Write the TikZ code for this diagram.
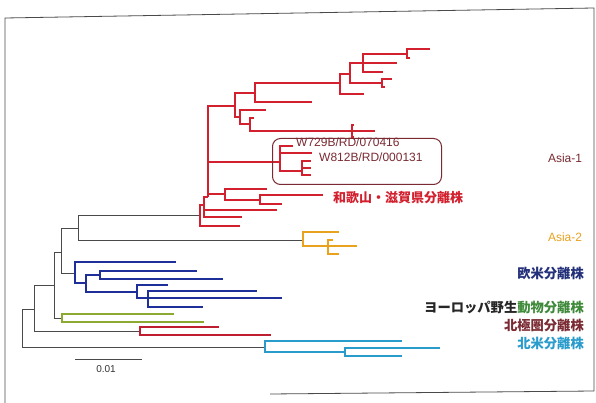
\documentclass[tikz,border=0pt]{standalone}
\usepackage{fontspec}
\setmainfont{Liberation Sans}
\newfontfamily\jp{Noto Sans CJK JP}
\definecolor{cgray}{HTML}{4A4A4A}
\definecolor{cred}{HTML}{D2202E}
\definecolor{carc}{HTML}{BE1E30}
\definecolor{cblue}{HTML}{1F2F9A}
\definecolor{cgreen}{HTML}{8CAA32}
\definecolor{ccyan}{HTML}{2A9CCC}
\definecolor{corange}{HTML}{E8A21E}
\definecolor{cmaroon}{HTML}{7A2A32}
\definecolor{cnavy}{HTML}{23307A}
\definecolor{cjgreen}{HTML}{3F8A3A}
\begin{document}
\begin{tikzpicture}[x=1pt,y=-1pt,
  gb/.style={draw=cgray,line width=0.8pt},
  cb/.style={line width=1.8pt,line join=miter},
  lab/.style={inner sep=0pt,font=\fontsize{12}{12}\selectfont},
  jlab/.style={inner sep=0pt,anchor=east,font=\jp\bfseries\fontsize{13.3}{13.3}\selectfont}]
\useasboundingbox (0,0) rectangle (596,403);
\fill[white] (0,0) rectangle (596,403);
% frame
\draw[cgray,line width=0.8pt] (5,403) -- (5,18) -- (594,8) -- (594,391) -- (270,394);

% backbone coordinates
\coordinate (root) at (22,328);
\coordinate (n1) at (34,309);
\coordinate (n2) at (54,285);
\coordinate (n3) at (61,252);
\coordinate (n4) at (78,228);
\coordinate (cy) at (265,347);
\coordinate (ar) at (140,331);
\coordinate (gr) at (62,318);
\coordinate (bl) at (75,273);
\coordinate (a1) at (200,215);
\coordinate (a2) at (303,240);
\foreach \p/\c in {root/n1,root/cy,n1/n2,n1/ar,n2/n3,n2/gr,n3/n4,n3/bl,n4/a1,n4/a2}
  \draw[gb] (\p) |- (\c);

% blue clade
\coordinate (nB) at (86,283);
\coordinate (nC) at (100,275);
\coordinate (nD) at (137,292);
\coordinate (nE) at (148,298);
\coordinate (bl1) at (176,262);
\coordinate (bl2) at (197,271);
\coordinate (bl3) at (223,279);
\coordinate (bl4) at (168,285);
\coordinate (bl5) at (257,291);
\coordinate (bl6) at (282,298);
\coordinate (bl7) at (203,307);
\foreach \p/\c in {bl/bl1,bl/nB,nB/nC,nB/nD,nC/bl2,nC/bl3,nD/bl4,nD/nE,nE/bl5,nE/bl6,nE/bl7}
  \draw[cb,cblue] (\p) |- (\c);

% green clade
\coordinate (g1) at (174,314);
\coordinate (g2) at (204,322);
\foreach \c in {g1,g2} \draw[cb,cgreen] (gr) |- (\c);

% arctic clade
\coordinate (ar1) at (219,327);
\coordinate (ar2) at (271,335);
\foreach \c in {ar1,ar2} \draw[cb,carc] (ar) |- (\c);

% north america clade
\coordinate (cy2) at (345,352);
\coordinate (c1) at (402,341);
\coordinate (c2) at (440,348);
\coordinate (c3) at (402,356);
\foreach \p/\c in {cy/c1,cy/cy2,cy2/c2,cy2/c3}
  \draw[cb,ccyan] (\p) |- (\c);

% asia-2 clade
\coordinate (a2b) at (328,246);
\coordinate (o1) at (339,232);
\coordinate (o2) at (333,240);
\coordinate (o3) at (357,246);
\coordinate (o4) at (339,254);
\foreach \p/\c in {a2/o1,a2/a2b,a2b/o2,a2b/o3,a2b/o4}
  \draw[cb,corange] (\p) |- (\c);

% asia-1 clade
\coordinate (r1) at (204,205);
\coordinate (a1l) at (240,226);
\coordinate (r2) at (208,197);
\coordinate (r1a) at (277,210);
\coordinate (r1b) at (242,217);
\coordinate (N1) at (235,106);
\coordinate (B1) at (280,162);
\coordinate (S1) at (225,194);
\coordinate (N2) at (255,93);
\coordinate (N8) at (240,117);
\coordinate (N3) at (340,83);
\coordinate (N2l) at (312,102);
\coordinate (N4) at (350,74);
\coordinate (N3l) at (364,94);
\coordinate (N5) at (363,63);
\coordinate (N7) at (382,83);
\coordinate (N6) at (407,54);
\coordinate (N5a) at (397,63);
\coordinate (N5b) at (383,72);
\coordinate (N6a) at (430,49);
\coordinate (N6b) at (410,58);
\coordinate (N7a) at (392,79);
\coordinate (N7b) at (385,87);
\coordinate (N8a) at (266,110);
\coordinate (N9) at (250,124);
\coordinate (N9a) at (254,118);
\coordinate (N10) at (352,131);
\coordinate (t1) at (354,125);
\coordinate (t2) at (375,131);
\coordinate (t3) at (354,137);
\coordinate (B1a) at (293,146);
\coordinate (B1b) at (312,153);
\coordinate (B2) at (302,171);
\coordinate (B2a) at (311,161);
\coordinate (B2b) at (311,168);
\coordinate (B2c) at (311,175);
\coordinate (S1a) at (267,189);
\coordinate (S2) at (260,200);
\coordinate (S2a) at (323,195);
\coordinate (S2b) at (282,204);
\foreach \p/\c in {a1/r1,a1/a1l,r1/r2,r1/r1a,r1/r1b,r2/N1,r2/B1,r2/S1,
  N1/N2,N1/N8,N2/N3,N2/N2l,N3/N4,N3/N3l,N4/N5,N4/N7,N5/N6,N5/N5a,N5/N5b,
  N6/N6a,N6/N6b,N7/N7a,N7/N7b,N8/N8a,N8/N9,N9/N9a,N9/N10,N10/t1,N10/t2,N10/t3,
  B1/B1a,B1/B1b,B1/B2,B2/B2a,B2/B2b,B2/B2c,S1/S1a,S1/S2,S2/S2a,S2/S2b}
  \draw[cb,cred] (\p) |- (\c);

% highlight box
\node[draw=cmaroon,line width=1pt,rounded corners=8pt,minimum width=169pt,minimum height=46pt,anchor=north west,inner sep=0pt] (box) at (272,138) {};
\node[lab,anchor=west,text=cmaroon] (w729) at (296,142) {W729B/RD/070416};
\node[lab,anchor=west,text=cmaroon] (w812) at (319,157) {W812B/RD/000131};

% labels
\node[lab,text=cred,anchor=west,font=\jp\bfseries\fontsize{13}{13}\selectfont] (waka) at (333,198) {和歌山・滋賀県分離株};
\node[lab,text=cmaroon] (asia1) at (565,158) {Asia-1};
\node[lab,text=corange] (asia2) at (565,237) {Asia-2};
\node[jlab,text=cnavy] (eu) at (584,273) {欧米分離株};
\node[jlab,text=black!85] (euw) at (584,307) {ヨーロッパ野生\textcolor{cjgreen}{動物分離株}};
\node[jlab,text=cmaroon] (arc) at (584,325) {北極圏分離株};
\node[jlab,text=ccyan] (na) at (584,343) {北米分離株};

% scale bar
\coordinate (sb1) at (75,359);
\coordinate (sb2) at (142,359);
\draw[gb,line width=1pt] (sb1) -- (sb2);
\node[inner sep=0pt,font=\fontsize{10}{10}\selectfont,text=black!80] (sbl) at (106,369) {0.01};
\end{tikzpicture}
\end{document}
